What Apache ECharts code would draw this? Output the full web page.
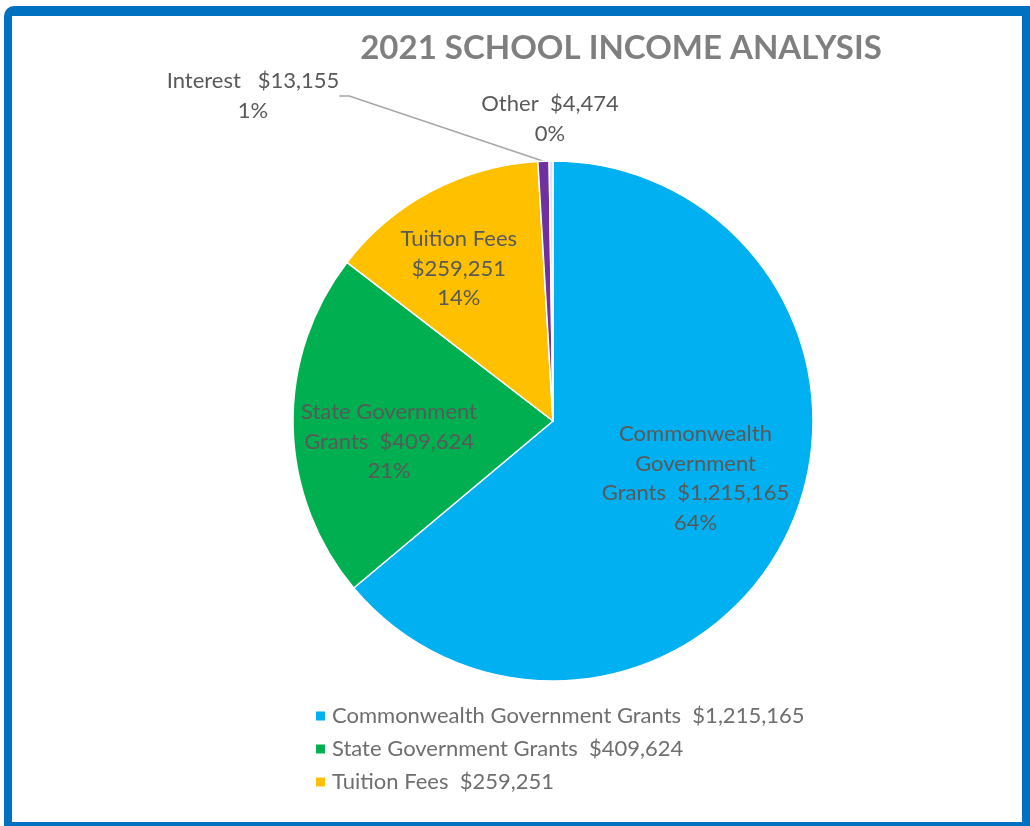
<!DOCTYPE html>
<html>
<head>
<meta charset="utf-8">
<script src="https://cdn.jsdelivr.net/npm/echarts@6/dist/echarts.min.js"></script>
<style>
html,body{margin:0;padding:0;width:1030px;height:826px;overflow:hidden;background:#fff;}
#frame{position:absolute;left:4px;top:6px;width:1010px;height:806px;border:8px solid #0070C0;border-top-width:10px;border-top-left-radius:10px;background:#fff;}
#main{position:absolute;left:0;top:0;width:1030px;height:826px;}
</style>
</head>
<body>
<div id="frame"></div>
<div id="main"></div>
<script>
// ---- data ----
const titleText = '2021 SCHOOL INCOME ANALYSIS';
const categories = ['Commonwealth Government Grants', 'State Government Grants', 'Tuition Fees', 'Interest', 'Other'];
const values = [1215165, 409624, 259251, 13155, 4474];
// wrapped label prefixes (as shown on the chart)
const labelPrefixes = ['Commonwealth\nGovernment\nGrants  ', 'State Government\nGrants  ', 'Tuition Fees\n', 'Interest   ', 'Other  '];
const legendItems = ['Commonwealth Government Grants', 'State Government Grants', 'Tuition Fees'];

// ---- styles ----
const colors = ['#00B0F0', '#00B050', '#FFC000', '#7030A0', '#D6E6F5'];
const FONT = 'Lato, "Open Sans", sans-serif';
const fmt = v => '$' + v.toLocaleString('en-US');
// label placement tweaks (style only)
const labelShift = [
  {dx: 22, dy: 1},
  {dx: -31, dy: 18},
  {dx: -32, dy: -35},
  null,
  null
];
const outsideLabelPos = {3: {x: 253, y: 96}, 4: {x: 550, y: 119}};

const chart = echarts.init(document.getElementById('main'));
const option = {
  backgroundColor: 'transparent',
  title: {
    text: titleText,
    left: 616, top: 27, textAlign: 'center',
    textStyle: {fontFamily: FONT, fontWeight: 'bold', fontSize: 33, color: '#7F7F7F'}
  },
  legend: {
    orient: 'vertical',
    left: 309, top: 700,
    itemWidth: 11, itemHeight: 11, itemGap: 11, icon: 'rect',
    data: legendItems,
    formatter: name => name + '  ' + fmt(values[categories.indexOf(name)]),
    textStyle: {fontFamily: FONT, fontSize: 22, color: '#6E6E6E', padding: [0, 0, 0, 1]}
  },
  series: [{
    type: 'pie',
    center: [553, 421],
    radius: 260,
    startAngle: 90,
    clockwise: true,
    percentPrecision: 0,
    itemStyle: {borderColor: '#fff', borderWidth: 1.5},
    emphasis: {disabled: true},
    label: {
      position: 'inside',
      fontFamily: FONT, fontSize: 22, lineHeight: 29.5, color: '#595959',
      align: 'center',
      formatter: p => labelPrefixes[p.dataIndex] + fmt(p.value) + '\n' + p.percent + '%'
    },
    labelLine: {show: false},
    labelLayout: function (p) {
      const i = p.dataIndex;
      if (outsideLabelPos[i]) {
        return {x: outsideLabelPos[i].x, y: outsideLabelPos[i].y, align: 'center', verticalAlign: 'middle'};
      }
      const s = labelShift[i];
      return s ? {dx: s.dx, dy: s.dy} : {};
    },
    data: categories.map((c, i) => {
      const d = {name: c, value: values[i], itemStyle: {color: colors[i]}};
      if (i === 3) {
        d.label = {position: 'outside'};
        d.labelLine = {show: true, length: 10, length2: 10, lineStyle: {color: '#A6A6A6', width: 1.5}};
      }
      if (i === 4) {
        d.label = {position: 'outside'};
        d.labelLine = {show: false};
      }
      return d;
    })
  }]
};
chart.setOption(option);
</script>
</body>
</html>
